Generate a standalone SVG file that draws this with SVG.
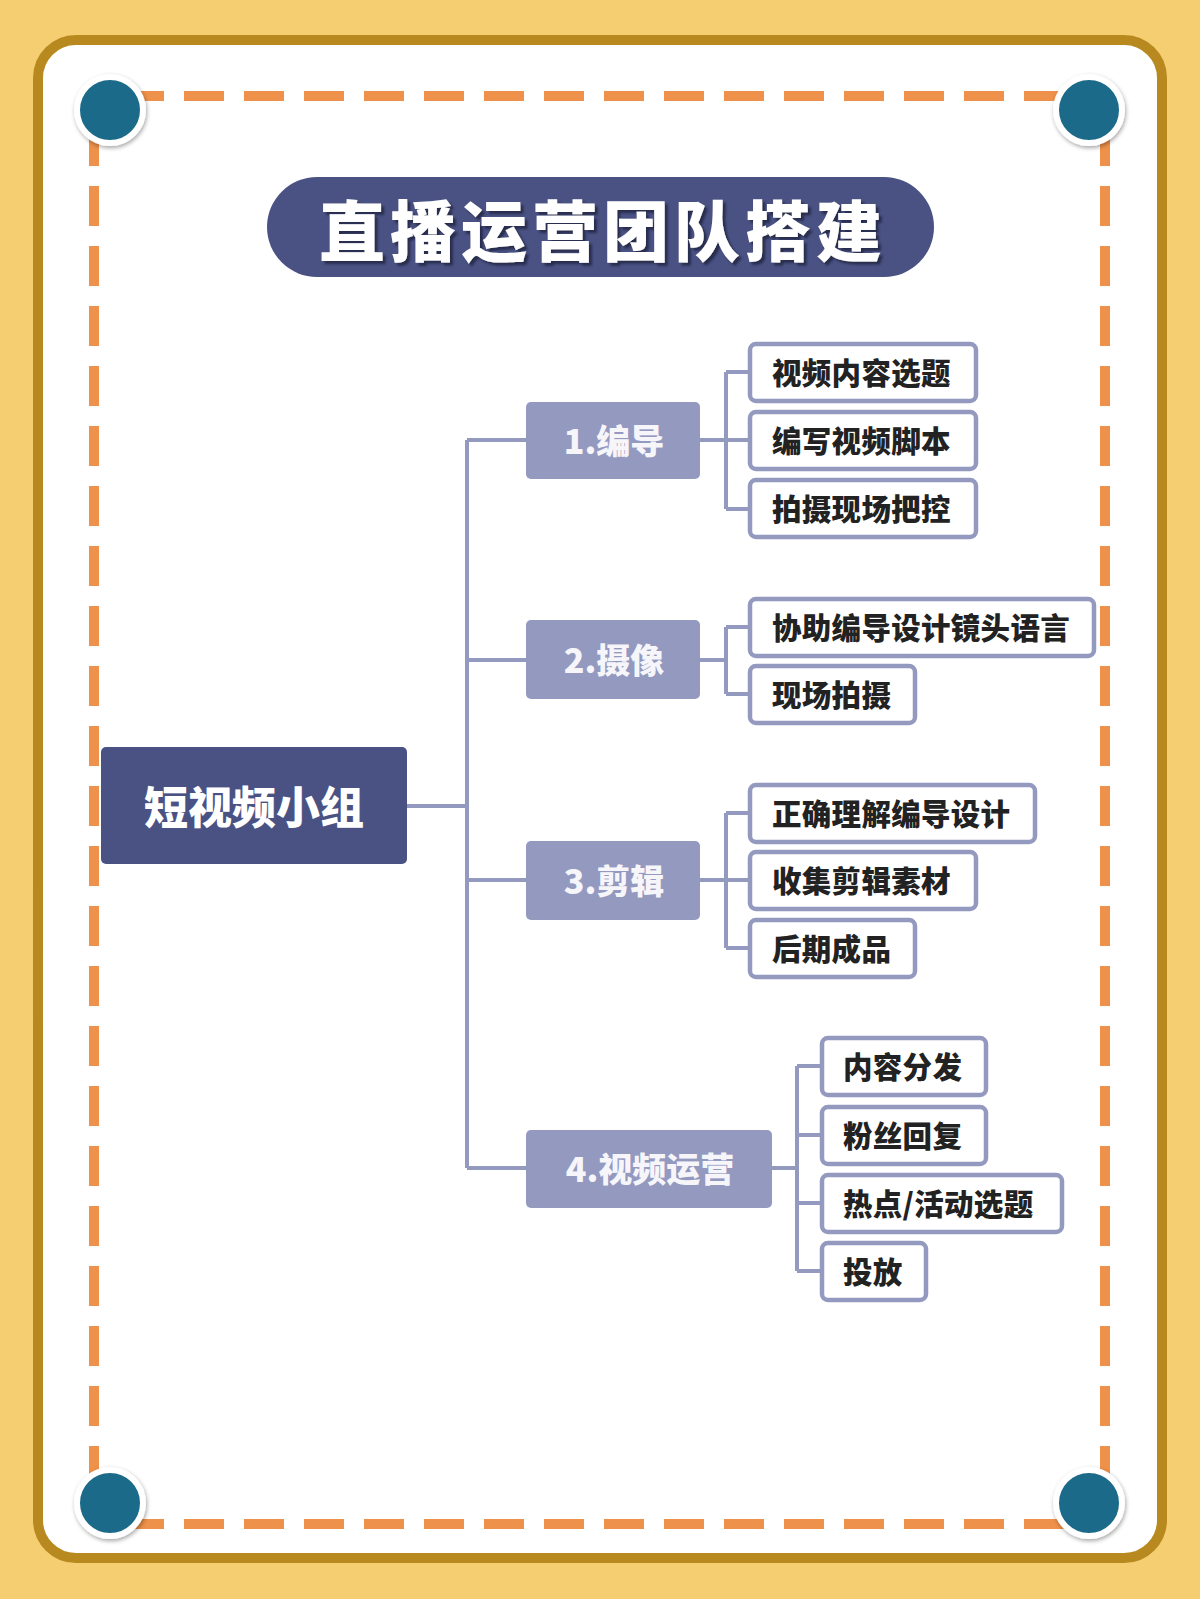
<svg xmlns="http://www.w3.org/2000/svg" width="1200" height="1599" viewBox="0 0 1200 1599">
<defs>
<style>
.dash{stroke:#EE914A;stroke-width:10;stroke-dasharray:40 20;stroke-dashoffset:30;fill:none}
.conn{stroke:#9499C0;stroke-width:4;fill:none}
.root{fill:#4A5283}
.l1{fill:#9499C0}
.l2{fill:#ffffff;stroke:#9499C0;stroke-width:4.5}
.t-root{font-family:"Noto Sans CJK SC","Noto Sans",sans-serif;font-weight:900;font-size:44px;fill:#ffffff;text-anchor:middle;dominant-baseline:central}
.t-l1{font-family:"Noto Sans CJK SC","Noto Sans",sans-serif;font-weight:900;font-size:34px;fill:#F6F6FA;text-anchor:middle;dominant-baseline:central}
.t-l2{font-family:"Noto Sans CJK SC","Noto Sans",sans-serif;font-weight:900;font-size:29.5px;letter-spacing:0.3px;fill:#222222;dominant-baseline:central}
.dot{fill:#1B6B8A;stroke:#ffffff;stroke-width:6}
</style>
<filter id="sh" x="-30%" y="-30%" width="160%" height="160%">
<feDropShadow dx="1" dy="2" stdDeviation="2" flood-color="#000000" flood-opacity="0.35"/>
</filter>
<filter id="tsh" x="-10%" y="-20%" width="120%" height="140%">
<feDropShadow dx="3" dy="3" stdDeviation="1" flood-color="#23284a" flood-opacity="0.9"/>
</filter>
</defs>
<rect x="0" y="0" width="1200" height="1599" fill="#F5CE72"/>
<rect x="38" y="40" width="1124" height="1518" rx="38" ry="38" fill="#ffffff" stroke="#B8891F" stroke-width="10"/>
<g id="frame">
<line class="dash" x1="94" y1="96" x2="1105" y2="96"/>
<line class="dash" x1="94" y1="96" x2="94" y2="1524"/>
<line class="dash" x1="1105" y1="96" x2="1105" y2="1524"/>
<line class="dash" x1="94" y1="1524" x2="1105" y2="1524"/>
<circle class="dot" cx="110" cy="110" r="33" filter="url(#sh)"/>
<circle class="dot" cx="1089" cy="110" r="33" filter="url(#sh)"/>
<circle class="dot" cx="110" cy="1503" r="33" filter="url(#sh)"/>
<circle class="dot" cx="1089" cy="1503" r="33" filter="url(#sh)"/>
</g>
<g id="title">
<rect x="267" y="177" width="667" height="100" rx="50" ry="50" fill="#4A5283"/>
<text x="603" y="227" filter="url(#tsh)" style="font-family:'Noto Sans CJK SC','Noto Sans',sans-serif;font-weight:900;font-size:66px;fill:#ffffff;text-anchor:middle;dominant-baseline:central;letter-spacing:5px">直播运营团队搭建</text>
</g>
<g id="connectors">
<path class="conn" d="M407 806 H467 M467 440 V1168 M467 440 H526 M467 660 H526 M467 880 H526 M467 1168 H526"/>
<path class="conn" d="M700 440 H726 M726 372 V509 M726 372 H750 M726 440 H750 M726 509 H750"/>
<path class="conn" d="M700 660 H726 M726 627 V694 M726 627 H750 M726 694 H750"/>
<path class="conn" d="M700 880 H726 M726 813 V948 M726 813 H750 M726 880 H750 M726 948 H750"/>
<path class="conn" d="M772 1168 H797 M797 1066 V1271 M797 1066 H822 M797 1135 H822 M797 1203 H822 M797 1271 H822"/>
</g>
<g id="root">
<rect class="root" x="101" y="747" width="306" height="117" rx="5"/>
<text class="t-root" x="254" y="805">短视频小组</text>
</g>
<g id="n1">
<rect class="l1" x="526" y="402" width="174" height="77" rx="5"/>
<text class="t-l1" x="614" y="439">1.编导</text>
</g>
<g id="n2">
<rect class="l1" x="526" y="620" width="174" height="79" rx="5"/>
<text class="t-l1" x="614" y="658">2.摄像</text>
</g>
<g id="n3">
<rect class="l1" x="526" y="841" width="174" height="79" rx="5"/>
<text class="t-l1" x="614" y="879">3.剪辑</text>
</g>
<g id="n4">
<rect class="l1" x="526" y="1130" width="246" height="78" rx="5"/>
<text class="t-l1" x="650" y="1167">4.视频运营</text>
</g>
<g id="n1a"><rect class="l2" x="750" y="344" width="226" height="57" rx="6"/><text class="t-l2" x="772" y="371">视频内容选题</text></g>
<g id="n1b"><rect class="l2" x="750" y="412" width="226" height="57" rx="6"/><text class="t-l2" x="772" y="439">编写视频脚本</text></g>
<g id="n1c"><rect class="l2" x="750" y="480" width="226" height="57" rx="6"/><text class="t-l2" x="772" y="507">拍摄现场把控</text></g>
<g id="n2a"><rect class="l2" x="750" y="599" width="344" height="57" rx="6"/><text class="t-l2" x="772" y="626">协助编导设计镜头语言</text></g>
<g id="n2b"><rect class="l2" x="750" y="666" width="165" height="57" rx="6"/><text class="t-l2" x="772" y="693">现场拍摄</text></g>
<g id="n3a"><rect class="l2" x="750" y="785" width="285" height="57" rx="6"/><text class="t-l2" x="772" y="812">正确理解编导设计</text></g>
<g id="n3b"><rect class="l2" x="750" y="852" width="226" height="57" rx="6"/><text class="t-l2" x="772" y="879">收集剪辑素材</text></g>
<g id="n3c"><rect class="l2" x="750" y="920" width="165" height="57" rx="6"/><text class="t-l2" x="772" y="947">后期成品</text></g>
<g id="n4a"><rect class="l2" x="822" y="1038" width="164" height="57" rx="6"/><text class="t-l2" x="843" y="1065">内容分发</text></g>
<g id="n4b"><rect class="l2" x="822" y="1107" width="164" height="57" rx="6"/><text class="t-l2" x="843" y="1134">粉丝回复</text></g>
<g id="n4c"><rect class="l2" x="822" y="1175" width="240" height="57" rx="6"/><text class="t-l2" x="843" y="1202">热点/活动选题</text></g>
<g id="n4d"><rect class="l2" x="822" y="1243" width="104" height="57" rx="6"/><text class="t-l2" x="843" y="1270">投放</text></g>
</svg>
